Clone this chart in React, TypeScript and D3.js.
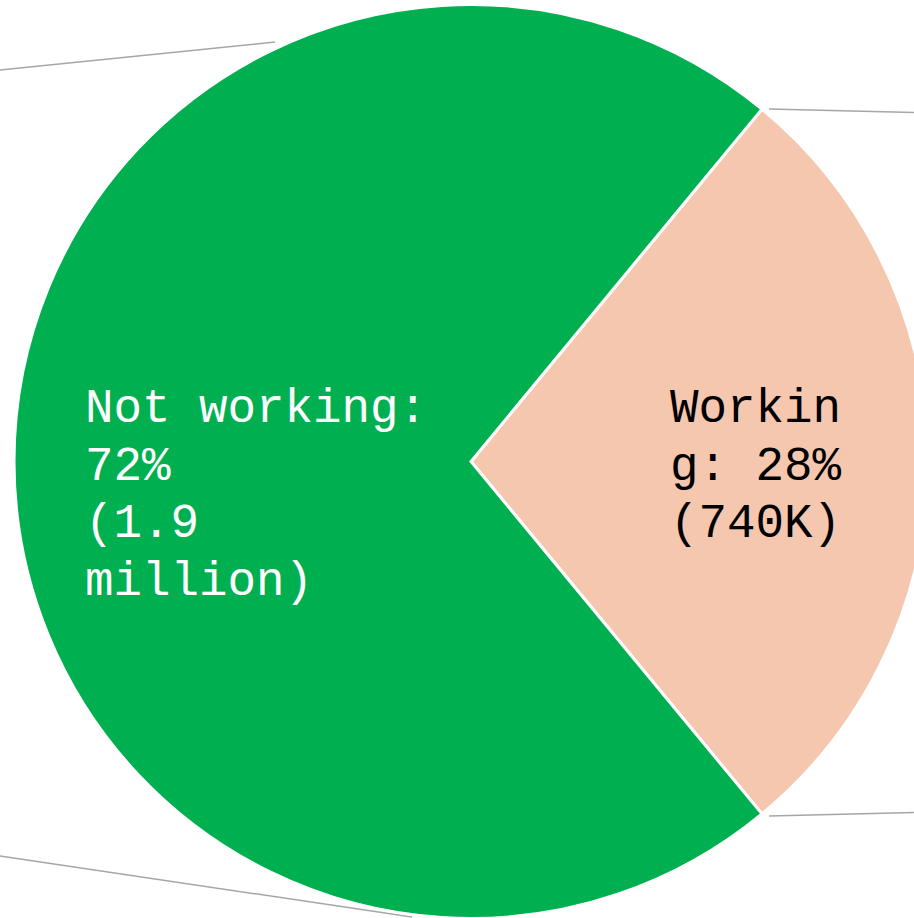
import React from "react";
import * as d3 from "d3";

const categories = ["Working", "Not working"];
const values = [740000, 1900000];
const labelLines = [
  ["Workin", "g: 28%", "(740K)"],
  ["Not working:", "72%", "(1.9", "million)"],
];
const colors = ["#F5C7AE", "#00B050"];
const textColors = ["#000000", "#FFFFFF"];

const W = 914;
const H = 918;
const CX = 471;
const CY = 461.5;
const R = 457;
const FONT = 47.5;
const LINE_H = 57.5;
const CHAR_W = FONT * 0.6;

// decorative gray leader lines (cropped from a larger figure)
const leaderLines: [number, number, number, number][] = [
  [0, 70, 275, 42],
  [769, 109, 914, 112.5],
  [769, 816, 914, 812.5],
  [0, 856, 412, 917],
];

// label block left positions / first baselines
const labelLayout = [
  { x: 670, y: 422 },
  { x: 85, y: 422 },
];

export default function App() {
  const share = values[0] / d3.sum(values);
  const start = Math.PI / 2 - share * Math.PI;
  const pie = d3
    .pie<number>()
    .sort(null)
    .startAngle(start)
    .endAngle(start + 2 * Math.PI);
  const arcs = pie(values);
  const arc = d3.arc<d3.PieArcDatum<number>>().innerRadius(0).outerRadius(R);

  return (
    <svg
      width={W}
      height={H}
      style={{ position: "absolute", left: 0, top: 0, background: "#fff" }}
    >
      {leaderLines.map((l, i) => (
        <line
          key={i}
          x1={l[0]}
          y1={l[1]}
          x2={l[2]}
          y2={l[3]}
          stroke="#A6A6A6"
          strokeWidth={1.5}
        />
      ))}
      <g transform={`translate(${CX},${CY})`}>
        {arcs.map((a, i) => (
          <path
            key={categories[i]}
            d={arc(a) || ""}
            fill={colors[i]}
            stroke="#FFFFFF"
            strokeWidth={3}
            strokeLinejoin="miter"
          />
        ))}
      </g>
      {labelLines.map((lines, i) => (
        <text
          key={categories[i]}
          fontFamily="'Liberation Mono', 'Courier New', monospace"
          fontSize={FONT}
          fill={textColors[i]}
        >
          {lines.map((ln, j) => (
            <tspan
              key={j}
              x={labelLayout[i].x + (ln.startsWith("(") ? 0 : 0)}
              y={labelLayout[i].y + j * LINE_H}
              xmlSpace="preserve"
            >
              {ln}
            </tspan>
          ))}
        </text>
      ))}
    </svg>
  );
}
